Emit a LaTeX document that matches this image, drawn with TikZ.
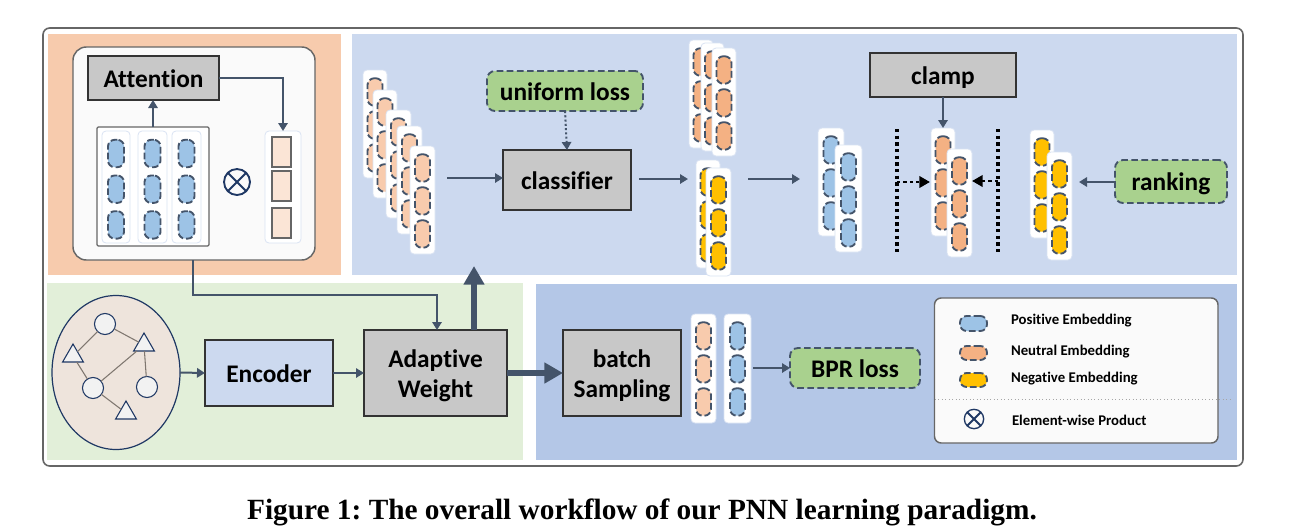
\documentclass[tikz,border=0pt]{standalone}
\usepackage{fontspec}
\setmainfont[Ligatures=NoCommon]{Carlito}
\newfontfamily\capfont{Liberation Serif}
\usetikzlibrary{arrows.meta,shapes.geometric}
\definecolor{cline}{HTML}{44546A}
\definecolor{pOrange}{HTML}{F7CBAD}
\definecolor{pBlue}{HTML}{CCD9EF}
\definecolor{pGreen}{HTML}{E2EFD9}
\definecolor{pDark}{HTML}{B4C7E7}
\definecolor{eBlue}{HTML}{9DC3E6}
\definecolor{eLight}{HTML}{F8CBAD}
\definecolor{eOrange}{HTML}{F4B183}
\definecolor{eYellow}{HTML}{FFC000}
\definecolor{gBox}{HTML}{A9D18E}
\definecolor{grBox}{HTML}{C8C8C8}
\definecolor{colEdge}{HTML}{DAE3F3}
\definecolor{navy}{HTML}{1F3864}
\definecolor{eGraph}{HTML}{EEE4DC}
\definecolor{sqFill}{HTML}{FBE5D6}
\definecolor{gEdge}{HTML}{7F7770}
\tikzset{
  x=0.75pt,y=-0.75pt,
  every node/.style={inner sep=0pt,outer sep=0pt},
  panel/.style={fill=#1},
  frame/.style={draw=black!60,fill=white,line width=1.2pt,rounded corners=5pt},
  whitebox/.style={draw=black!60,fill=black!2,line width=1.1pt,rounded corners=10pt},
  graybox/.style={draw=black!80,fill=grBox,line width=1pt},
  greenbox/.style={draw=cline,fill=gBox,line width=1.4pt,dash pattern=on 5pt off 2.6pt,rounded corners=6pt},
  colbox/.style={fill=white,draw=colEdge,line width=0.6pt,rounded corners=3pt},
  capsule/.style={draw=cline,fill=#1,line width=1.4pt,dash pattern=on 5pt off 2.2pt,rounded corners=5pt},
  sq/.style={draw=black!60,fill=sqFill,line width=0.8pt},
  arr/.style={draw=cline,line width=1.5pt,-{Triangle[width=7pt,length=6pt]}},
  dotarr/.style={draw=cline,line width=1.5pt,dash pattern=on 1.6pt off 1.6pt,-{Triangle[width=7pt,length=6pt]}},
  bigarr/.style={draw=cline,line width=5.2pt,-{Triangle[width=15pt,length=14pt]}},
  blackdots/.style={draw=black,line width=2.6pt,dash pattern=on 2.6pt off 2.4pt},
  blackarr/.style={draw=black,line width=2.2pt,dash pattern=on 2.4pt off 2.4pt,-{Triangle[width=8.5pt,length=8pt]}},
  gnode/.style={draw=navy,fill=black!5,line width=0.8pt},
  otimes/.style={circle,draw=navy,line width=1.4pt,minimum size=#1,
    path picture={\draw[navy,line width=1.4pt]
      (path picture bounding box.north west)--(path picture bounding box.south east)
      (path picture bounding box.north east)--(path picture bounding box.south west);}},
  lbl/.style={font=\fontsize{19pt}{22.5pt}\selectfont\bfseries,text height=13.5pt,text depth=0pt},
  lbltwo/.style={font=\fontsize{19pt}{22.5pt}\selectfont\bfseries,align=center},
  leg/.style={font=\fontsize{11.1pt}{13pt}\selectfont\bfseries,anchor=west},
}
% box by pixel corners
\newcommand\bx[7]{%
  \pgfmathsetmacro\bxw{((#4)-(#2))*0.75}\pgfmathsetmacro\bxh{((#5)-(#3))*0.75}%
  \node[#6,minimum width=\bxw pt,minimum height=\bxh pt] (#1) at ({((#2)+(#4))/2},{((#3)+(#5))/2}) {#7};}
% column: name x1 y1 x2 y2 fill first pitch capwidth
\newcommand\col[9]{%
  \bx{#1}{#2}{#3}{#4}{#5}{colbox}{}%
  \foreach \ci in {0,1,2}{%
    \pgfmathsetmacro\cy{#3+#7+\ci*#8}%
    \pgfmathsetmacro\cx{(#2+#4)/2}%
    \bx{#1-\ci}{\cx-#9/2}{\cy-13.7}{\cx+#9/2}{\cy+13.7}{capsule=#6}{}%
  }}
\begin{document}
\begin{tikzpicture}
\useasboundingbox (0,0) rectangle (1289,529);
% frame and panels
\bx{outer}{43}{28}{1243}{466}{frame}{}
\bx{pa}{48}{34}{341}{275}{panel=pOrange}{}
\bx{pb}{352}{34}{1237}{275}{panel=pBlue}{}
\bx{pc}{47}{283}{523}{460}{panel=pGreen}{}
\bx{pd}{536}{284}{1237}{460}{panel=pDark}{}
% attention block
\bx{wb}{73}{47}{315}{260}{whitebox}{}
\bx{attn}{88}{56}{219}{100}{graybox,lbl}{Attention}
\bx{mat}{97}{127}{209}{246}{draw=black!60,fill=white,line width=0.9pt,rounded corners=1pt}{}
\col{m1}{102}{131}{130}{243}{eBlue}{22.5}{35.7}{16}
\col{m2}{138}{131}{167}{243}{eBlue}{22.5}{35.7}{16}
\col{m3}{172}{131}{201}{243}{eBlue}{22.5}{35.7}{16}
\node[otimes=19.5pt] (ot) at (237,182) {};
\bx{vec}{265}{131}{301}{243}{colbox}{}
\bx{s1}{272}{137}{291}{167}{sq}{}
\bx{s2}{272}{171}{291}{201}{sq}{}
\bx{s3}{272}{208}{291}{238}{sq}{}
\draw[arr] (mat.north) -- (attn.south -| mat.north);
\draw[arr] (attn.east) -| (vec.north);
% stack of neutral embeddings
\col{a1}{363}{70}{387}{178}{eLight}{22}{33}{15}
\col{a2}{373}{90}{397}{198}{eLight}{22}{33}{15}
\col{a3}{386}{110}{411}{218}{eLight}{22}{33}{15}
\col{a4}{397}{126}{422}{234}{eLight}{22}{33}{15}
\col{a5}{410}{146}{435}{254}{eLight}{22}{33}{15}
% classifier
\bx{cls}{503}{150}{631}{210}{graybox,lbl}{classifier}
\bx{uni}{487}{71}{643}{111}{greenbox,lbl}{uniform loss}
\coordinate (cin) at (447,178);
\coordinate (cout) at (639,179);
\coordinate (cout2) at (688,179);
\coordinate (cnext) at (748,179);
\coordinate (cnext2) at (800,179);
\draw[arr] (cin) -- (cls.west |- cin);
\draw[dotarr] (uni.south) -- (cls.north);
\draw[arr] (cout) -- (cout2);
\draw[arr] (cnext) -- (cnext2);
% output stacks
\col{b1}{689}{40}{713}{148}{eOrange}{22}{33}{15}
\col{b2}{701}{43}{724}{151}{eOrange}{22}{33}{15}
\col{b3}{712}{48}{736}{156}{eOrange}{22}{33}{15}
\col{y1}{696}{160}{720}{268}{eYellow}{22}{33}{15}
\col{y2}{706}{168}{731}{276}{eYellow}{22}{33}{15}
% ranking group
\bx{clamp}{870}{53}{1016}{97}{graybox,lbl}{clamp}
\col{p1}{818}{128}{844}{236}{eBlue}{22}{33}{15}
\col{p2}{835}{145}{862}{252}{eBlue}{22}{33}{15}
\col{n1}{931}{128}{955}{236}{eOrange}{22}{33}{15}
\col{n2}{947}{149}{972}{257}{eOrange}{22}{33}{15}
\col{g1}{1030}{130}{1054}{238}{eYellow}{22}{33}{15}
\col{g2}{1047}{152}{1072}{260}{eYellow}{22}{33}{15}
\coordinate (vl1) at (897,129);
\coordinate (vl2) at (897,252);
\coordinate (vr1) at (998,129);
\coordinate (vr2) at (998,252);
\draw[blackdots] (vl1) -- (vl2);
\draw[blackdots] (vr1) -- (vr2);
\coordinate (al) at (897,182);
\coordinate (ar) at (998,181);
\coordinate (alt) at (930,182);
\draw[blackarr] (al) -- (alt);
\draw[blackarr] (ar) -- (n2.east |- ar);
\draw[arr] (clamp.south) -- (clamp.south |- n1.north);
\bx{rank}{1115}{160}{1227}{203}{greenbox,lbl}{ranking}
\coordinate (rk) at (1079,182);
\draw[arr] (rank.west |- rk) -- (rk);
% graph ellipse
\node[ellipse,draw=navy,fill=eGraph,line width=0.9pt,minimum width=96pt,minimum height=115.5pt] (gr) at (116,372.5) {};
\node[circle,gnode,minimum size=15.8pt] (c1) at (105,324) {};
\node[circle,gnode,minimum size=15.8pt] (c2) at (93,388) {};
\node[circle,gnode,minimum size=15.8pt] (c3) at (147,387) {};
\node[regular polygon,regular polygon sides=3,gnode,minimum size=18pt] (t1) at (73,356) {};
\node[regular polygon,regular polygon sides=3,gnode,minimum size=18pt] (t2) at (144,345) {};
\node[regular polygon,regular polygon sides=3,gnode,minimum size=18pt] (t3) at (126,413) {};
\draw[draw=gEdge,line width=0.8pt] (c1)--(t1) (c1)--(t2) (t1)--(c2) (c2)--(t2) (t2)--(c3) (c2)--(t3);
% lower row
\bx{enc}{205}{340}{333}{406}{draw=black!80,fill=pBlue,line width=1pt,lbl}{Encoder}
\bx{wt}{364}{330}{507}{416}{graybox}{}
\node[lbltwo,yshift=-2.4pt] (wtl) at (wt.center) {Adaptive\\Weight};
\bx{bs}{563}{330}{681}{416}{graybox}{}
\node[lbltwo,yshift=-2pt] (bsl) at (bs.center) {batch\\Sampling};
\draw[arr] (gr.east) -- (enc.west);
\draw[arr] (enc.east) -- (wt.west |- enc.east);
\coordinate (wb1) at (193,260);
\coordinate (wb2) at (193,295);
\coordinate (wb3) at (437,295);
\draw[arr] (wb1) -- (wb2) -- (wb3) -- (wb3 |- wt.north);
\coordinate (up) at (474,266);
\draw[bigarr] (up |- wt.north) -- (up);
\draw[bigarr] (wt.east) -- (bs.west);
\col{q1}{691}{314}{716}{423}{eLight}{22}{33}{15}
\col{q2}{724}{314}{751}{423}{eBlue}{22}{33}{15}
\bx{bpr}{790}{348}{920}{388}{greenbox,lbl}{BPR loss}
\coordinate (qout) at (753,368);
\draw[arr] (qout) -- (bpr.west);
% legend
\bx{lg}{934.5}{298}{1218}{443}{draw=black!60,fill=black!2,line width=1.1pt,rounded corners=5pt}{}
\bx{l1}{960}{316}{987}{331}{capsule=eBlue}{}
\bx{l2}{960}{346}{987}{360}{capsule=eOrange}{}
\bx{l3}{960}{373}{987}{387}{capsule=eYellow}{}
\node[leg] (lt1) at (1011,321) {Positive Embedding};
\node[leg] (lt2) at (1011,352) {Neutral Embedding};
\node[leg] (lt3) at (1011,379) {Negative Embedding};
\coordinate (ls1) at (935,399);
\coordinate (ls2) at (1232,399);
\draw[draw=black!35,line width=0.6pt,dotted] (ls1) -- (ls2);
\node[otimes=14.5pt,line width=1pt] (lo) at (974,419) {};
\node[leg] (lt4) at (1012,420) {Element-wise Product};
% caption
\node[font=\capfont\fontsize{22pt}{24pt}\selectfont\bfseries] (caption) at (642,512) {\frenchspacing Figure 1: The overall workflow of our PNN learning paradigm.};
\end{tikzpicture}
\end{document}
